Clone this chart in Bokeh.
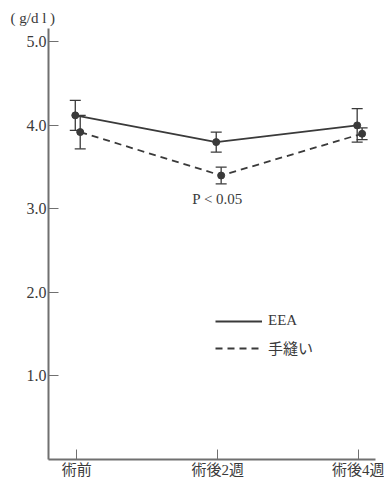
from bokeh.plotting import figure
from bokeh.models import (ColumnDataSource, Whisker, TeeHead, Range1d, FixedTicker,
                          NumeralTickFormatter, Legend, LegendItem)
from bokeh.transform import dodge
from bokeh.core.properties import value
from bokeh.embed import file_html
from bokeh.resources import INLINE

categories = ["術前", "術後2週", "術後4週"]
eea_mean = [4.12, 3.80, 4.00]
eea_sd = [0.18, 0.12, 0.20]
hand_mean = [3.92, 3.40, 3.90]
hand_sd = [0.20, 0.10, 0.07]
y_ticks = [1.0, 2.0, 3.0, 4.0, 5.0]
unit_label = "( g/d l )"
p_label = "P < 0.05"

SERIF = "'Liberation Serif', 'Noto Sans CJK JP'"
INK = "#3a3a3a"

xs = list(range(len(categories)))
src_e = ColumnDataSource(dict(x=xs, y=eea_mean,
                              lo=[m - s for m, s in zip(eea_mean, eea_sd)],
                              hi=[m + s for m, s in zip(eea_mean, eea_sd)]))
src_h = ColumnDataSource(dict(x=xs, y=hand_mean,
                              lo=[m - s for m, s in zip(hand_mean, hand_sd)],
                              hi=[m + s for m, s in zip(hand_mean, hand_sd)]))

p = figure(width=384, height=480, output_backend="svg", toolbar_location=None,
           x_range=Range1d(-0.2, 2.12), y_range=Range1d(0, 5.16),
           min_border_left=48, min_border_right=9, min_border_top=28, min_border_bottom=19)
p.outline_line_color = None
p.grid.visible = False
p.background_fill_color = "white"

p.title.text = unit_label
p.title.align = "left"
p.title.offset = -38
p.title.standoff = 5
p.title.text_font = "Liberation Serif"
p.title.text_font_style = "normal"
p.title.text_font_size = "15px"
p.title.text_color = INK

dx_e = dodge("x", -0.01, range=p.x_range)
dx_h = dodge("x", 0.025, range=p.x_range)

r_e = p.line(x=dx_e, y="y", source=src_e, line_color=INK, line_width=1.8)
p.scatter(x=dx_e, y="y", source=src_e, size=7, color=INK)
r_h = p.line(x=dx_h, y="y", source=src_h, line_color=INK, line_width=1.8, line_dash="7 5")
p.scatter(x=dx_h, y="y", source=src_h, size=7, color=INK)

for src, dx in ((src_e, dx_e), (src_h, dx_h)):
    w = Whisker(base=dx, lower="lo", upper="hi", source=src, dimension="height",
                line_color=INK, line_width=1.3,
                upper_head=TeeHead(size=11, line_color=INK, line_width=1.3),
                lower_head=TeeHead(size=11, line_color=INK, line_width=1.3))
    p.add_layout(w)

p.text(x=[1.0], y=[3.12], text=[p_label], text_font=value("Liberation Serif"),
       text_font_size="15px", text_align="center", text_baseline="middle", text_color=INK)

# axes
p.xaxis.ticker = FixedTicker(ticks=xs)
p.xaxis.major_label_overrides = {i: c for i, c in enumerate(categories)}
p.yaxis.ticker = FixedTicker(ticks=y_ticks)
p.yaxis.formatter = NumeralTickFormatter(format="0.0")
for ax in (p.xaxis[0], p.yaxis[0]):
    ax.axis_line_color = "#707070"
    ax.axis_line_width = 2
    ax.major_tick_in = 10
    ax.major_tick_out = 0
    ax.major_tick_line_color = "#707070"
    ax.minor_tick_line_color = None
    ax.major_label_text_font = SERIF
    ax.major_label_text_color = INK
    ax.major_label_standoff = 2
p.xaxis.major_label_text_font_size = "15px"
p.yaxis.major_label_text_font_size = "16px"

legend = Legend(items=[LegendItem(label="EEA", renderers=[r_e]),
                       LegendItem(label="手縫い", renderers=[r_h])],
                location=(167, 101), glyph_width=47, glyph_height=14, label_height=14,
                spacing=8, padding=0, margin=0, border_line_color=None,
                background_fill_alpha=0,
                label_text_font=SERIF, label_text_font_size="15px", label_text_color=INK,
                label_standoff=6)
p.add_layout(legend)

open("out.html", "w").write(file_html(p, INLINE))
